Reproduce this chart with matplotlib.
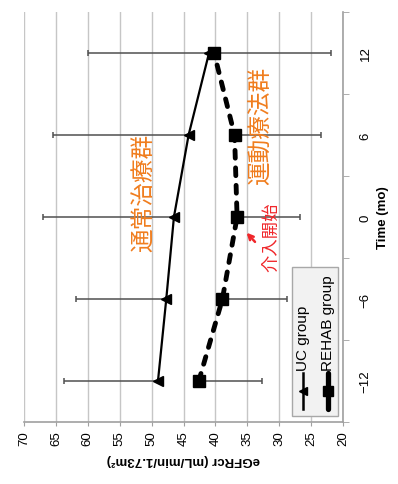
import matplotlib
matplotlib.use('Agg')
import matplotlib.pyplot as plt
from matplotlib.patches import Rectangle
from matplotlib.lines import Line2D

plt.rcParams['font.family'] = ['Liberation Sans', 'Noto Sans CJK JP', 'DejaVu Sans']

# data (time in months, eGFRcr mean and SD)
months = [-12, -6, 0, 6, 12]
uc_mean = [49.0, 47.7, 46.5, 44.2, 41.0]
uc_sd = [14.8, 14.2, 20.5, 21.2, 18.9]        # shown as + bars only
rehab_mean = [42.6, 38.9, 36.6, 37.0, 40.2]
rehab_sd = [9.9, 10.1, 9.8, 13.6, 18.3]       # shown as - bars only
egfr_ticks = [70, 65, 60, 55, 50, 45, 40, 35, 30, 25, 20]

ORANGE = '#F07D1E'
RED = '#F0262A'
GRID = '#c6c6c6'
AXIS = '#a0a0a0'

fig = plt.figure(figsize=(3.98, 4.85), dpi=100)
ax = fig.add_axes([24 / 398, 1 - 423 / 485, 319 / 398, 410 / 485])

# one-sided error bars: UC upward (left), REHAB downward (right)
zeros = [0] * len(months)
ax.errorbar(uc_mean, months, xerr=[zeros, uc_sd], fmt='none', ecolor='#505050',
            elinewidth=1.1, capsize=2.2, capthick=1.1, zorder=2)
ax.errorbar(rehab_mean, months, xerr=[rehab_sd, zeros], fmt='none',
            ecolor='#505050', elinewidth=1.1, capsize=2.2, capthick=1.1, zorder=2)
ax.plot(uc_mean, months, color='black', lw=1.6, marker='<', ms=7.5, zorder=3)
ax.plot(rehab_mean, months, color='black', lw=3.5, ls=(0, (1.6, 2.0)),
        dash_capstyle='round', marker='s', ms=8.5, zorder=4)

# axes (chart is rotated: eGFR runs along the bottom, time up the right)
ax.set_xlim(70, 20)
ax.set_ylim(-15, 15)
ax.set_xticks(egfr_ticks)
ax.set_yticks(months)
ax.set_yticks([-15, -9, -3, 3, 9, 15], minor=True)
ax.yaxis.tick_right()
ax.yaxis.set_label_position('right')
ax.tick_params(axis='x', labelrotation=90, labelsize=9.5, length=3,
               color=AXIS, pad=3)
ax.tick_params(axis='y', which='major', labelrotation=90, labelsize=9.5,
               length=0, pad=12)
ax.tick_params(axis='y', which='minor', length=4, color=AXIS)
for lab in ax.get_yticklabels():
    lab.set_va('center')
ax.xaxis.grid(True, color=GRID, lw=1)
ax.set_axisbelow(True)
for s in ['top', 'left']:
    ax.spines[s].set_visible(False)
for s in ['bottom', 'right']:
    ax.spines[s].set_color(AXIS)
    ax.spines[s].set_linewidth(1.2)

ax.set_xlabel('eGFRcr (mL/min/1.73m²)', rotation=180, fontsize=9.5,
              fontweight='bold', labelpad=6)
ax.set_ylabel('Time (mo)', rotation=90, fontsize=9.5, fontweight='bold',
              labelpad=4)

# group annotations
ax.text(51.1, 1.8, '通常治療群', rotation=90, fontsize=17, color=ORANGE,
        ha='center', va='center', family=['Noto Sans CJK JP'])
ax.text(32.8, 6.7, '運動療法群', rotation=90, fontsize=17, color=ORANGE,
        ha='center', va='center', family=['Noto Sans CJK JP'])
ax.text(31.3, -1.42, '介入開始', rotation=90, fontsize=12.5, color=RED,
        ha='center', va='center', family=['Noto Sans CJK JP'])
ax.annotate('', xy=(35.4, -1.0), xytext=(33.5, -1.97),
            arrowprops=dict(arrowstyle='->', color=RED, lw=1.8,
                            mutation_scale=9))

# rotated legend drawn by hand
ax.add_patch(Rectangle((0.840, 0.015), 0.144, 0.363, transform=ax.transAxes,
                       facecolor='#f2f2f2', edgecolor='#a8a8a8', lw=1, zorder=5))
ax.add_line(Line2D([0.875, 0.875], [0.032, 0.12], transform=ax.transAxes,
                   color='black', lw=1.8, zorder=6))
ax.plot([0.875], [0.076], transform=ax.transAxes, color='black', marker='<',
        ms=6, zorder=7)
ax.add_line(Line2D([0.953, 0.953], [0.032, 0.12], transform=ax.transAxes,
                   color='black', lw=3.8, solid_capstyle='round', zorder=6))
ax.plot([0.953], [0.076], transform=ax.transAxes, color='black', marker='s',
        ms=7, zorder=7)
ax.text(0.875, 0.127, 'UC group', transform=ax.transAxes, rotation=90,
        fontsize=11, ha='center', va='bottom', zorder=7)
ax.text(0.953, 0.127, 'REHAB group', transform=ax.transAxes, rotation=90,
        fontsize=11, ha='center', va='bottom', zorder=7)

fig.savefig('out.png', dpi=100)
